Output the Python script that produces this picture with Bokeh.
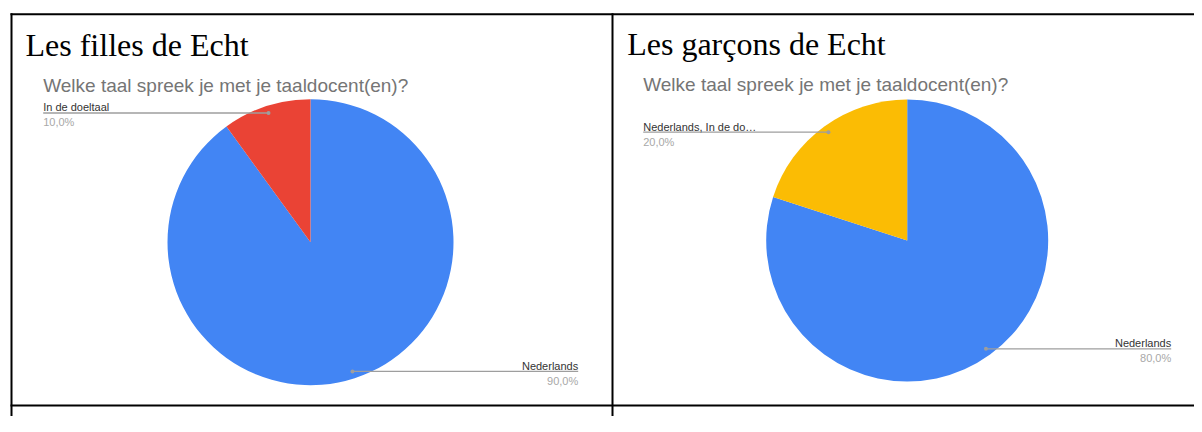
import math
from bokeh.plotting import figure
from bokeh.models import Range1d
from bokeh.embed import file_html
from bokeh.resources import INLINE
from bokeh.core.properties import value

# ---- data ----
panel_titles = ["Les filles de Echt", "Les garçons de Echt"]
question = "Welke taal spreek je met je taaldocent(en)?"
girls_labels = ["Nederlands", "In de doeltaal"]
girls_values = [90.0, 10.0]
boys_labels = ["Nederlands", "Nederlands, In de do\u2026"]
boys_values = [80.0, 20.0]
girls_colors = ["#4285F4", "#EA4335"]
boys_colors = ["#4285F4", "#FBBC04"]

# ---- layout (screen pixels of the picture) ----
W, H = 1194, 416
panels = [
    dict(labels=girls_labels, values=girls_values, colors=girls_colors, title=panel_titles[0],
         title_x=25, title_y=44, sub_x=42.7, sub_y=85, cx=310, cy=241.7, r=143,
         lab_l=42.7, lab_r=577.7),
    dict(labels=boys_labels, values=boys_values, colors=boys_colors, title=panel_titles[1],
         title_x=626.7, title_y=43.5, sub_x=642.7, sub_y=84, cx=906.7, cy=240, r=141,
         lab_l=642.7, lab_r=1170.7),
]

p = figure(width=W, height=H, x_range=Range1d(0, W), y_range=Range1d(-H, 0),
           output_backend="svg", toolbar_location=None, min_border=0,
           x_axis_type=None, y_axis_type=None)
p.grid.visible = False
p.outline_line_color = None
p.background_fill_color = "white"
p.border_fill_color = "white"

# table borders
p.segment(x0=[10, 11, 612, 10], y0=[-13.7, -12.7, -12.7, -405],
          x1=[1210, 11, 612, 1210], y1=[-13.7, -440, -440, -405],
          line_color="black", line_width=2)

LINE_GRAY = "#9e9e9e"

for pn in panels:
    p.text(x=[pn["title_x"]], y=[-pn["title_y"]], text=[pn["title"]],
           text_font=value("Liberation Serif"), text_font_size="32px",
           text_color="black", text_baseline="alphabetic", text_align="left")
    p.text(x=[pn["sub_x"]], y=[-pn["sub_y"]], text=[question],
           text_font=value("Liberation Sans"), text_font_size="19px",
           text_color="#757575", text_baseline="alphabetic", text_align="left")

    total = sum(pn["values"])
    cum = 0.0
    cx, cy, r = pn["cx"], pn["cy"], pn["r"]
    for lab, v, col in zip(pn["labels"], pn["values"], pn["colors"]):
        f0 = cum / total
        f1 = (cum + v) / total
        cum += v
        a0 = math.pi / 2 - 2 * math.pi * f0
        a1 = math.pi / 2 - 2 * math.pi * f1
        p.wedge(x=[cx], y=[-cy], radius=r, radius_units="screen",
                start_angle=a0, end_angle=a1, direction="clock",
                fill_color=col, line_color=None)
        am = (a0 + a1) / 2
        dx = cx + 0.95 * r * math.cos(am)
        dsy = cy - 0.95 * r * math.sin(am)
        pct = f"{100 * v / total:.1f}".replace(".", ",") + "%"
        if dx < cx:
            lx0, lx1, tx, align = pn["lab_l"], dx, pn["lab_l"], "left"
        else:
            lx0, lx1, tx, align = dx, pn["lab_r"], pn["lab_r"], "right"
        p.segment(x0=[lx0], y0=[-dsy], x1=[lx1], y1=[-dsy], line_color=LINE_GRAY, line_width=1.3)
        p.scatter(x=[dx], y=[-dsy], size=4, marker="circle", fill_color=LINE_GRAY, line_color=None)
        p.text(x=[tx], y=[-(dsy - 5.5)], text=[lab], text_font=value("Liberation Sans"),
               text_font_size="11px", text_color="#333333", text_baseline="alphabetic",
               text_align=align)
        p.text(x=[tx], y=[-(dsy + 3.5)], text=[pct], text_font=value("Liberation Sans"),
               text_font_size="11px", text_color="#a8a8a8", text_baseline="top",
               text_align=align)

open("out.html", "w").write(file_html(p, INLINE))
